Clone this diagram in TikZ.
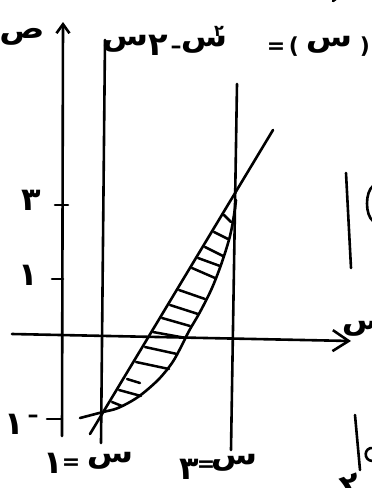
\documentclass[tikz,border=0pt]{standalone}
\usepackage{fontspec}
\newfontfamily\arf[Script=Arabic]{DejaVu Sans}
\newfontfamily\plf{DejaVu Sans}
\usetikzlibrary{arrows.meta}
\tikzset{
  ln/.style={line width=2.6pt, line cap=round, line join=round},
  hatchln/.style={line width=2.5pt, line cap=round},
  ar/.style={font=\arf\bfseries\fontsize{28}{28}\selectfont, inner sep=0pt, xscale=1.2},
  dig/.style={font=\arf\bfseries\fontsize{32}{32}\selectfont, inner sep=0pt},
  digsm/.style={font=\arf\bfseries\fontsize{16}{16}\selectfont, inner sep=0pt},
  pl/.style={font=\plf\bfseries\fontsize{22}{22}\selectfont, inner sep=0pt},
}
\begin{document}
\begin{tikzpicture}[x=1pt,y=-1pt]
\useasboundingbox (0,0) rectangle (372,488);
% axes
\coordinate (yb) at (62,436); \coordinate (yt) at (63,22);
\draw[ln, -{Straight Barb[length=9pt,width=13pt]}] (yb) -- (yt);
\coordinate (xl) at (12,334); \coordinate (xr) at (351,341);
\draw[ln, -{Straight Barb[length=16pt,width=21pt]}] (xl) -- (xr);
% vertical lines x=1, x=3
\coordinate (a1) at (105,40); \coordinate (a2) at (101,443);
\draw[ln] (a1) -- (a2);
\coordinate (b1) at (237,84); \coordinate (b2) at (231,450);
\draw[ln] (b1) -- (b2);
% straight line
\coordinate (l1) at (90,434); \coordinate (l2) at (273,130);
\draw[ln] (l1) -- (l2);
% parabola
\draw[ln] plot[smooth, tension=0.55] coordinates {(80,418) (103,412) (118,408) (138,397) (158,380) (172,363) (181,347) (189,331) (200,312) (212,288) (222,262) (230,236) (234,215) (236,200)};
% hatching
\foreach \p/\q in {{(224,215)/(231,222)},{(214,232)/(228,239)},{(205,247)/(223,256)},{(198,258)/(220,266)},{(192,268)/(215,278)},{(179,290)/(205,299)},{(170,305)/(198,314)},{(162,318)/(190,326)},{(153,332)/(186,338)},{(145,347)/(177,354)},{(136,362)/(169,369)},{(127,379)/(140,383)},{(119,390)/(141,396)},{(112,402)/(122,406)}}
  \draw[hatchln] \p -- \q;
% ticks
\coordinate (t3a) at (55,205); \coordinate (t3b) at (68,205);
\draw[ln] (t3a) -- (t3b);
\coordinate (t1a) at (52,279); \coordinate (t1b) at (63,279);
\draw[ln] (t1a) -- (t1b);
\coordinate (tma) at (47,419); \coordinate (tmb) at (62,419);
\draw[ln] (tma) -- (tmb);
% tick labels
\node[dig] (l3) at (31,200) {٣};
\node[dig] (l1) at (28,275) {١};
\node[dig] (lm1) at (14,424) {١};
\node[pl] (lm1s) at (33,419) {–};
% axis labels
\node[ar] (yl) at (22,37) {ص};
\node[ar] (xlab) at (365,328) {س};
% top formula
\node[ar] (f1) at (125,44) {س};
\node[dig] (f2) at (158,45) {٢};
\node[pl] (f3) at (176,50) {–};
\node[ar] (f4) at (204,45) {س};
\node[digsm] (f5) at (219,31) {٢};
\node[pl] (f6) at (276,48) {=};
\node[pl] (f7) at (294,47) {(};
\node[ar] (f8) at (329,45) {س};
\node[pl] (f9) at (365,47) {)};
\coordinate (tm1) at (333,1); \coordinate (tm2) at (337,-2);
\draw[ln] (tm1) -- (tm2);
% bottom labels
\node[dig] (b1a) at (53,463) {١};
\node[pl] (b1b) at (71,464) {=};
\node[ar] (b1c) at (110,461) {س};
\node[dig] (b3a) at (189,469) {٣};
\node[pl] (b3b) at (206,466) {=};
\node[ar] (b3c) at (234,463) {س};
% right fragments
\coordinate (r1) at (346,173); \coordinate (r2) at (351,268);
\draw[ln] (r1) -- (r2);
\coordinate (r3) at (373,186); \coordinate (r4) at (373,221);
\draw[ln] (r3) .. controls (365,192) and (365,215) .. (r4);
\coordinate (r5) at (355,415); \coordinate (r6) at (360,470);
\draw[ln] (r5) -- (r6);
\coordinate (r7) at (373,448); \coordinate (r8) at (372,461);
\draw[ln] (r7) .. controls (364,447) and (363,460) .. (r8);
\node[dig, rotate=20] (r9) at (351,486) {٢};
\end{tikzpicture}
\end{document}
